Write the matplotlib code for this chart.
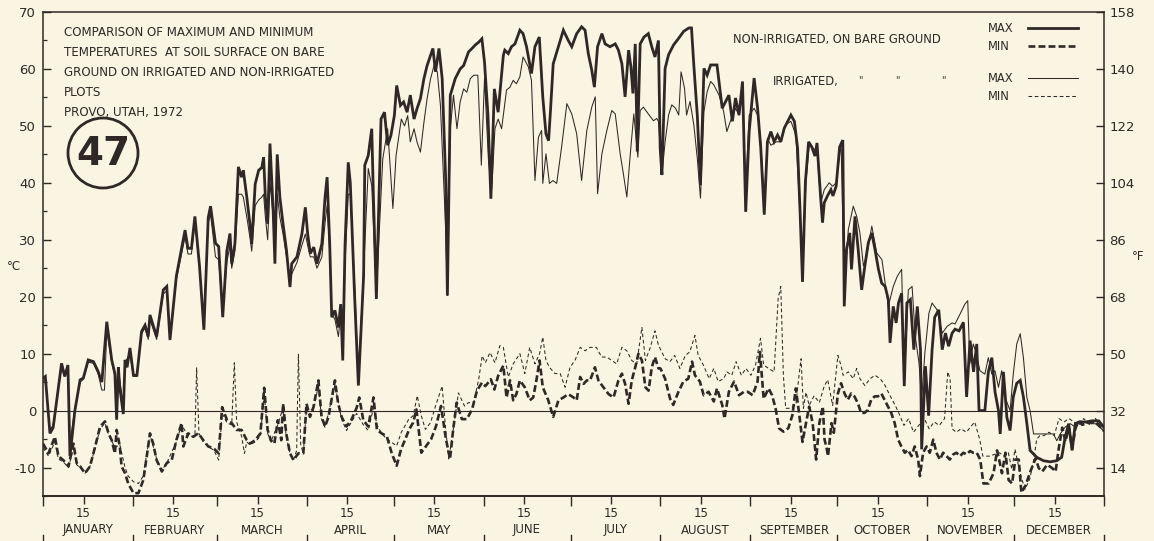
import matplotlib
matplotlib.use("Agg")
import matplotlib.pyplot as plt
from matplotlib.lines import Line2D
from matplotlib.patches import Ellipse
from matplotlib.transforms import blended_transform_factory
from matplotlib import font_manager

# ---------------------------------------------------------------------------
# Soil-surface temperatures, Provo, Utah, 1972 (day of year 0..366, deg C)
# ---------------------------------------------------------------------------
dry_max_day = [0, 0.8, 2.4, 3.5, 6.4, 7.5, 8.6, 9.3, 11, 12.8, 13.9, 15.6, 17.4, 19, 20.3, 22, 23.7, 24.8,
               25.4, 26, 26.5, 27.7, 28.3, 29, 30, 31.2, 32.4, 34, 35.2, 36.3, 36.9, 39.2, 41.5, 42.7, 43.8,
               46, 49, 50, 51.2, 52.4, 54, 55.5, 57, 57.8, 59.5, 60.6, 62, 63.4, 64.5, 65.1, 66.2, 67.4,
               68.5, 69.1, 70.3, 71.5, 72, 73.2, 74.4, 75.5, 76.1, 76.7, 77.5, 78.3, 79.4, 80, 80.8, 81.7,
               82.8, 84, 85.2, 85.8, 87.6, 89.3, 90.5, 91.3, 92.2, 93.4, 94.5, 96.2, 97.3, 98, 98.9, 99.6,
               100.7, 101.9, 102.7, 103.4, 104.2, 105.3, 106, 107.5, 108.8, 110.6, 111, 112.2, 113.4, 114,
               115, 116.6, 117.8, 118.9, 120, 121.2, 122, 123.3, 124.4, 125.6, 126.7, 128, 129, 130.2,
               131.4, 132.5, 133.7, 134.5, 135.4, 136.6, 137.7, 138.9, 139.5, 140.5, 142.2, 143.9, 145.1,
               146.8, 148, 149.1, 150.3, 151.4, 152.3, 153.5, 154.5, 155.7, 157, 158.8, 159.3, 160.5,
               161.6, 162.8, 164.5, 165.6, 166.8, 168.5, 169.7, 171.2, 172.4, 173.5, 174.4, 175, 176,
               177.8, 179.5, 181.2, 182.4, 184.1, 185.8, 187, 188.1, 189.3, 190.2, 191.3, 192.8, 193.9,
               195.6, 197.4, 198.5, 199.7, 200.8, 202, 202.8, 203.5, 204.3, 205, 206, 207.3, 208.8, 210,
               211.1, 212.3, 212.9, 213.5, 214.6, 215.8, 217.5, 219.3, 221, 222.8, 223.7, 224.5, 225.7,
               226.8, 228, 229.1, 230.3, 231.4, 232.5, 233.2, 234.3, 235.5, 236.6, 237.8, 238.9, 240.1,
               241.3, 242.4, 243.6, 245.3, 246.5, 247.6, 248.8, 249.9, 251.1, 252.2, 253.4, 254.5, 255.7,
               256.9, 258, 259.2, 260.3, 261.2, 262, 263, 264.1, 265.2, 266.3, 267, 268.3, 268.9, 269.5,
               270.6, 271.8, 272.5, 273.6, 274.8, 275.9, 276.4, 277.2, 278.3, 278.9, 280.1, 281.2, 282.4,
               283.5, 284.7, 285.9, 287, 288.2, 289.3, 290.5, 291.6, 292.2, 293.3, 294.3, 295.1, 296.2,
               297.1, 298, 299.2, 300.4, 301.6, 302.7, 303.1, 304.4, 305.5, 306.7, 307.6, 309, 310.2,
               311.3, 312.4, 313.6, 314.6, 316, 317.5, 318.6, 319.8, 321, 322.1, 322.9, 324.9, 326.1,
               327.3, 328.4, 329.6, 330.2, 331.3, 332.5, 333.6, 334.7, 335.9, 337.1, 338.2, 339.4, 340.5,
               342.8, 345.1, 347.4, 349.7, 351.4, 352.6, 353.8, 355, 356.1, 357.3, 359.6, 361.9, 364.2,
               365.9]
dry_max_c = [5.7, 6, -4, -3, 8.3, 6, 8, -8, 0, 5.4, 5.7, 8.9, 8.6, 6.9, 5, 15.6, 8.9, 6.5,
             -1.6, 7.6, 4, -0.6, 8.9, 7.6, 11, 6.2, 6.2, 13.9, 15, 13, 16.8, 13, 21.2, 21.8, 12.4,
             23.6, 31.7, 28.5, 28.5, 34.1, 25.3, 14.2, 33.9, 35.9, 29.4, 28.8, 16.4, 28, 31.1, 25.8, 29.3, 42.8,
             41, 42.2, 37.5, 32.2, 29.3, 39.8, 42.2, 42.7, 44.5, 37.5, 32.8, 46.9, 35.1, 25.8, 45, 37.5,
             32.8, 28.1, 21.7, 25.8, 27, 31, 35.7, 31, 27.6, 28.7, 25.8, 29.3, 37.5, 41, 29.3, 16.4,
             17.6, 14.6, 18.7, 8.8, 29.3, 43.6, 40, 20, 4.4, 23.7, 43.1, 44.8, 49.5, 37.2,
             19.6, 51.2, 52.4, 46.6, 48.3, 51.8, 57.1, 53.6, 54.2, 52.4, 55.4, 51.2, 53, 54.8,
             58.3, 60.6, 62.4, 63.6, 59.5, 63.6, 58.3, 40.7, 20.2, 55.4, 58.3, 60, 60.6,
             63, 63.6, 64.2, 64.7, 65.3, 61.2, 51.8, 37.2, 56.5, 52.4, 62.4, 63.3, 62.7,
             63.9, 64.4, 66.8, 66.2, 63.9, 59.2, 63.9, 65.6, 55.1, 48.6, 47.4, 52.2, 60.9,
             63.9, 66.8, 65, 63.9, 66.2, 67.4, 66.8, 62.7, 59.8, 56.8, 63.9, 66.2, 64.4,
             63.9, 64.4, 63.3, 60.9, 55.1, 63.3, 60.4, 55.7, 64.4, 45.5, 64.4, 65.6, 66.2, 63.9,
             62.1, 65, 46.1, 41.4, 60.1, 62.5, 64.2, 65.4, 66.6, 67.2, 67.2, 60.7, 51.9,
             39.6, 60.1, 58.9, 60.7, 60.7, 60.7, 57.8, 53.1, 54.3, 55.4, 50.8, 54.9, 51.9,
             57.8, 34.9, 49, 58.4, 53.1, 46.1, 34.4, 47.2, 49, 47.2, 48.4, 47.2, 49.6,
             50.8, 51.9, 50.8, 46.1, 34.4, 22.6, 40.2, 47.2, 46.3, 44.7, 47, 37.1, 33, 36.5,
             37.7, 38.8, 37.7, 39.4, 46.3, 47.5, 18.3, 28.3, 31.2, 24.8, 34.1, 28.3, 21.2,
             25.4, 29.5, 31.2, 28.3, 24.8, 22.4, 21.8, 19.5, 11.9, 18.3, 15.4, 18.9, 20.6,
             4.3, 18.9, 19.5, 10.7, 18.3, 10.7, -6.8, 7.8, -0.9, 10.7, 16.4, 17.7, 10.7,
             13.6, 11.3, 13.6, 14.3, 14, 15.5, 2.4, 12.3, 6.8, 11.7, 0, 0, 6.8,
             9.3, 3.3, 0, -4.1, 6.8, -1.2, -3.5, 2.4, 4.8, 5.3, 2.4, -2.3, -7,
             -8.2, -8.8, -9, -8.8, -8.2, -4.7, -2.3, -7, -2.3, -2, -2, -1.8, -1.8,
             -2.9]

dry_min_day = [0, 1.9, 4.1, 5.3, 7, 8.8, 10.5, 11.6, 12.8, 14.5, 16.2, 18, 19.7, 21.4, 22.6, 23.7, 24.8,
               25.4, 26.5, 27.1, 28.3, 29.4, 31.2, 32.9, 34.6, 35.8, 36.9, 38, 39.2, 41, 42.7, 44.4, 46,
               47.8, 48.4, 50.1, 51.8, 53.6, 55.3, 57, 58.8, 60.6, 61.8, 63.5, 65.1, 66.8, 68.5, 70.3,
               71.4, 73.2, 75, 76.3, 77.5, 78.6, 79.8, 81, 82.2, 82.8, 83.9, 85.2, 86.4, 88.1, 89.8, 90.9,
               92.1, 93.3, 95, 96.1, 97.3, 98.5, 100.7, 101.8, 103, 104.7, 106.4, 108.2, 109.1, 110.5,
               112.2, 114, 115.2, 116.8, 118.6, 120.3, 122, 123.5, 125, 126.3, 127.7, 128.8, 130.5, 132.2,
               133.9, 135.6, 137.3, 139, 140.4, 141.5, 142.7, 144.5, 146.2, 148, 149.7, 151.4, 152.6,
               154.5, 155.7, 157, 158.8, 159.9, 161.1, 162.2, 163.3, 164.5, 166.2, 167.9, 169.1, 170.2,
               171.3, 172.4, 174.3, 176, 177.8, 179.5, 181.2, 183, 184.1, 185.3, 186.5, 187.6, 188.7,
               190.4, 191.6, 193.3, 195.1, 196.8, 198.5, 199.7, 200.8, 202, 203.1, 204.3, 205.4, 206.6,
               207.8, 208.9, 210, 211.1, 212.3, 213, 214.6, 216.3, 217.4, 219.2, 220.9, 222.6, 223.9,
               224.9, 226.6, 227.9, 229.6, 231.4, 232.5, 234.3, 235.1, 236.6, 238.4, 240.1, 241.8, 243.1,
               244.8, 246.5, 247.3, 248.6, 250.3, 251.5, 252.7, 253.9, 255.4, 257.1, 258.5, 259.7, 260.9,
               262, 263.2, 264.3, 265.5, 266.7, 267.8, 269, 269.6, 270.2, 270.8, 272, 272.8, 274.2, 275.3,
               276.5, 277.6, 278.8, 279.9, 281.1, 282.2, 283.4, 284.5, 285.7, 286.9, 288, 289.2, 290.3,
               291.5, 292.6, 293.8, 295, 296.1, 297.3, 298.4, 299.6, 300.7, 301.9, 302.5, 303.6, 304.8,
               305.9, 307.1, 308.2, 309.4, 310.5, 311.7, 312.8, 314, 315.1, 316.3, 317.5, 318.6, 319.8,
               320.9, 322.1, 323.3, 324.4, 326.2, 327.9, 329.1, 329.9, 330.8, 332, 333.1, 334.3, 335.4,
               336.6, 337.5, 338.9, 340.6, 342.4, 343.5, 344.7, 346.4, 348.1, 349.3, 350.4, 351.6, 352.7,
               353.9, 355, 356.2, 357.3, 358.5, 360.8, 363.1, 366]
dry_min_c = [-5.8, -7.5, -4.6, -8, -8.7, -9.8, -5.8, -9.2, -9.8, -11, -9.8, -6.3, -2.8, -1.9, -4, -5.2, -7.5,
             -3.4, -6.3, -9.8, -11, -12.8, -14.5, -14.5, -12.2, -8, -4, -5.8, -8.7, -10.7, -9.2, -8.7, -5.2,
             -2.2, -6.3, -4, -4.6, -4, -5.2, -6.3, -6.6, -7.5, 0.6, -1.7, -2.2, -3.4, -3.4, -5.2,
             -5.8, -5.2, -4, 4, -3.4, -5.2, -5.8, -1.7, -5.2, 1.2, -4, -7.5, -8.7, -7.5, -7.5, 1.2,
             -1.1, 0.6, 5.3, -1.1, -2.8, -1.1, 5.3, 1.3, -1.1, -2.8, -1.6, 0.5, 2.3, -1.7,
             -2.8, 2.3, -3.4, -4, -4.5, -7.5, -9.7, -6.8, -5, -3.3, -2.1, 0.2, -7.4, -6.2,
             -5, -2.7, 0.8, -5, -8.5, -3.3, 1.4, -1.5, -1.5, 0.2, 3.5, 4.9, 4.3,
             5.5, 3.7, 6.1, 7.9, 2.3, 5.3, 1.8, 2.9, 5.3, 4.1, 1.8, 2.3, 5.3,
             8.8, 4.1, 1.8, -1.1, 1.8, 2.3, 2.9, 2.3, 1.8, 5.9, 4.7, 5.3, 5.3,
             7.6, 5.3, 4.1, 2.9, 2.3, 5.3, 6.5, 4.7, 1.2, 5.3, 7.6, 10, 8.8,
             4.1, 3.5, 7.6, 9.4, 7.4, 7.4, 5.6, 2.1, 1, 3.3, 5.1, 5.6, 8.6,
             6.2, 5.1, 2.7, 3.3, 1.6, 3.9, 1, -1.4, 3.3, 5.1, 2.7, 3.3, 3.3,
             2.7, 5.1, 10.3, 2.1, 3.9, 2.7, 0.4, -3.1, -3.7, -3.1, -0.8, 3.9, -0.8,
             -5.5, -2.2, 0.7, -2.2, -8.6, -2.2, 0.7, -5.1, -6.3, -8, -2.2, -3.9, 3, 4.8,
             3, 1.9, 3, 2.5, 1.3, -0.4, -0.4, 0.1, 1.9, 2.5, 2.5, 3, 1.9,
             0.7, -0.4, -2.2, -5.1, -6.3, -7.4, -6.9, -8, -6.3, -8.6, -11.5, -7.4, -6.3,
             -7.4, -5.1, -7.4, -8.6, -7.4, -8, -8.6, -7.7, -7.4, -8, -7.4, -7.7, -7.1,
             -7.4, -7.4, -8.6, -12.8, -12.8, -11, -7, -8.8, -11, -7.4, -12.2, -12.8, -8.6,
             -8.6, -14.4, -13.2, -10.7, -8.4, -10.1, -10.7, -9.5, -10.1, -10.7, -6.6, -3, -5.4,
             -3, -6.6, -3, -1.9, -2.5, -2.1, -1.9, -3.6]

wet_max_day = [0, 0.8, 2.4, 3.5, 6.4, 7.5, 8.6, 9.3, 11, 12.8, 13.9, 15.6, 17.4, 19, 20.3, 21.2, 22, 23.7,
               24.8, 25.4, 26, 27.7, 28.3, 30, 31.2, 32.4, 34, 35.2, 36.3, 36.9, 39.2, 41.5, 42.7, 43.8, 46,
               49, 50, 51.2, 52.4, 54, 55.5, 57, 57.8, 59.5, 60.6, 62, 63.4, 64.5, 65.1, 66.2, 67.4, 68.5,
               69.1, 70.3, 71.5, 72, 73.2, 74.4, 75.5, 76.1, 76.7, 77.5, 78.3, 79.4, 80, 80.8, 81.7, 82.8,
               84, 85.2, 85.8, 87.6, 89.3, 90.5, 91.3, 92.2, 93.4, 94.5, 96.2, 97.3, 98, 98.9, 99.6, 100.7,
               101.9, 102.7, 103.4, 104.2, 105.3, 106, 107.5, 108.8, 111, 112.2, 113.4, 115, 117.2, 118.9,
               120.7, 121.8, 123.6, 124.7, 125.8, 126.7, 128, 129, 130.2, 131.4, 132.5, 133.7, 134.9, 136,
               137.1, 138.9, 139.5, 140.5, 141.6, 142.8, 143.9, 145.1, 146.2, 147.4, 148.6, 150, 151.2,
               152.3, 153.7, 154.8, 155.9, 157, 158.2, 159.3, 159.9, 161.1, 162.2, 163.3, 164.5, 165.6,
               167.4, 168.5, 169.7, 170.9, 172, 172.4, 173.5, 174.7, 175.9, 177.2, 178.9, 180.7, 182.4,
               184.1, 185.8, 187.6, 189.3, 190.5, 191.3, 192.8, 194.5, 196.2, 197.4, 199.1, 200.2, 201.4,
               202.6, 203.8, 205.2, 206, 207.1, 208.8, 210.6, 211.7, 212.3, 213.5, 214.6, 215.8, 216.9,
               218.2, 219.3, 220.1, 221.3, 222, 223.2, 224.5, 225.7, 226.8, 228, 229.1, 230.3, 231.4,
               233.2, 234.8, 235.9, 237.1, 238.9, 240.1, 241.3, 242.4, 243.6, 245.3, 246.5, 247.6, 248.8,
               249.9, 251.1, 252.9, 254.5, 256.2, 258, 259.7, 260.9, 262, 263.2, 264.3, 265.8, 267, 268.3,
               269.5, 271.2, 272.4, 273.6, 275.3, 276.4, 277.8, 279.5, 280.7, 281.8, 283, 284.1, 285.9,
               287.6, 289.4, 290.5, 291.6, 293.3, 294.7, 296.2, 297.1, 298.5, 299.8, 300.9, 302.2, 303.1,
               304.2, 305.6, 306.7, 308.4, 310.2, 311.9, 313.6, 314.6, 316.3, 318, 319, 319.7, 320.9, 322,
               323.2, 324.9, 326.1, 327.3, 328.4, 329.6, 330.7, 331.9, 333.6, 334.7, 335.9, 337.1, 338.2,
               339.4, 340.5, 341.7, 345.2, 348.6, 349.7, 350.9, 352.6, 354.4, 356.1, 357.8, 360.7, 363,
               365.9]
wet_max_c = [5, 5.5, -3.5, -2.5, 7.5, 6, 7.5, -6, 0.5, 5, 5.5, 8.5, 8.3, 6.5, 3.6, 3.6, 14, 8.5,
             6, 0, 7, 1, 8.5, 10, 6, 6, 13.5, 14.5, 12.5, 16, 12.5, 20.5, 21, 13, 23,
             30.5, 27.5, 27.5, 33, 25, 15, 33, 34.5, 27, 26.5, 17, 26, 29, 25, 28, 38, 38,
             37.5, 34, 30, 28, 36, 37, 37.5, 38, 34, 30, 40, 34, 27, 38, 34, 31,
             27, 23, 24, 26, 29, 31, 29, 27, 27, 25, 27, 33, 36, 28, 17, 16,
             13, 17, 10, 26, 38, 38, 22, 5.6, 29, 42.5, 39.5, 20.8, 44.2, 49.5,
             35.5, 44.8, 51.2, 50, 51.8, 47.2, 49.5, 47.2, 45.4, 50.6, 54.8, 58.3, 60.6, 59.5,
             53.6, 31.9, 20.2, 49.5, 55.4, 49.5, 54.2, 56.5, 55.9, 58.3, 58.9, 58.9, 43.1,
             58.3, 43.6, 38.9, 49.5, 51.2, 49.5, 53.9, 56.3, 56.8, 58, 57.4, 58.6, 62.1,
             60.4, 58, 40.4, 48, 49.2, 39.9, 45.1, 39.9, 40.4, 39.9, 46.3, 53.9, 52.1,
             48.6, 40.4, 49.2, 53.3, 55.1, 38.1, 45.1, 49.2, 52.7, 52.1, 45.1, 41.6, 37.5,
             45.1, 52.1, 44.5, 52.7, 53.3, 52.1, 50.9, 51.3, 50.8, 41.4, 47.2, 51.9, 53.7,
             53.1, 51.9, 59.5, 56.6, 51.9, 54.3, 50.2, 44.3, 37.3, 52.5, 56, 57.8, 57.2,
             55.4, 52.5, 49, 50.8, 53.1, 51.9, 55.4, 39, 51.9, 53.1, 51.9, 47.2, 36.7,
             47.8, 46.6, 47.2, 47.2, 50.2, 50.8, 48.4, 36.7, 23.8, 40.2, 46.6, 46, 45.7, 36.5,
             38.8, 40, 39.4, 40, 47, 21.2, 31.8, 35.9, 34.1, 31.2, 25.4, 27.1, 32.4,
             27.7, 26.5, 22.4, 18.3, 21.8, 23.6, 24.8, 4.9, 21.2, 21.8, 13, 8.3, 1.9,
             10.1, 17.1, 18.9, 17.7, 13.6, 14.8, 15.4, 15.2, 16.9, 18.7, 19.3, 8.2, 11.7, 10,
             7, 6.4, 9.3, 6.4, 7, 4.1, 7, 2.3, 0, 6.4, 11.7, 13.5, 9.3,
             2.3, 0, -4.1, -4.1, -4.1, -5.3, -4.1, -2.9, -2.3, -2.9, -1.8, -2.3, -2.3,
             -3.5]

wet_min_day = [0, 1.9, 4.1, 5.3, 7, 8.8, 10.5, 11.6, 12.8, 14.5, 16.2, 18, 19.7, 21.4, 22.6, 24.8, 26.5,
               28.3, 29.4, 31.2, 32.9, 34.6, 35.8, 36.9, 39.2, 41, 42.7, 46, 47.8, 50.1, 52.4, 53, 53.8,
               55.3, 57, 59, 60.6, 61.8, 63.5, 65.1, 66, 66.8, 68.5, 69.5, 70.3, 71.4, 73.2, 75, 76.3,
               77.5, 78.6, 81, 82.8, 83.9, 85.2, 86.4, 87.5, 88.1, 88.9, 89.8, 90.9, 93.3, 95, 96.1,
               97.3, 100.7, 103, 104.7, 106.4, 108.2, 110.5, 112.2, 114, 115.2, 116.8, 118.6, 120.3, 122,
               123.6, 126.2, 127.7, 129.1, 130.5, 131.9, 133.7, 135.4, 137.7, 138.9, 140, 141.7, 143.3,
               145.4, 146.8, 148.6, 150.3, 151.5, 152.6, 154.2, 155.9, 157.6, 158.8, 160.5, 162.2, 164.5,
               166.2, 167.9, 169.7, 171.3, 172.4, 173.5, 174.7, 176.6, 178.4, 180.1, 181.8, 183.5, 185.3,
               187, 188.7, 190.9, 192.7, 194.5, 196.2, 197.9, 199.7, 201.4, 203.1, 204.8, 206.6, 207.8,
               209.5, 211.1, 212.3, 214.6, 216.3, 217.9, 219.7, 221.6, 223.1, 224.9, 226, 227.8, 229.8,
               231.4, 232.9, 234.8, 235.9, 237.6, 239.1, 240.9, 242.5, 244.2, 245.8, 247.5, 248.6, 250.3,
               252.2, 253.6, 254.5, 255.4, 256.2, 257.8, 259.7, 260.8, 261.5, 262.3, 263.2, 264.3, 266,
               267.8, 269.5, 270.7, 272.4, 274.2, 275.3, 276, 277.8, 279.5, 280.7, 281.8, 283.5, 285.3,
               287, 288.8, 290.5, 292.2, 294, 295.1, 297, 298.6, 300.3, 302.1, 304, 305.7, 307.4, 309.2,
               311, 312.1, 312.9, 313.6, 315, 316.7, 318.5, 321.4, 323.1, 324.2, 326.5, 329.8, 331.9, 333,
               334.2, 335.3, 336.5, 337.6, 338.8, 340.4, 341.6, 342.8, 343.9, 345.3, 347, 348.8, 350.5,
               352.2, 353.9, 355.6, 357.3, 359, 361.3, 363.1, 366]
wet_min_c = [-6.5, -8, -5.5, -8.5, -9, -10, -6.5, -9.5, -10, -11, -9.8, -6.5, -3.2, -2.2, -4.2, -6.5, -6,
             -10, -11.5, -12.5, -12.8, -11.5, -7.5, -4.2, -8.5, -10.5, -9.2, -5.5, -2.5, -4.5, -4.5, 7.5, -4,
             -5.5, -6.3, -7, -8.7, -0.5, -2.2, -2.5, 8.4, -2, -4.5, -7.5, -5.5, -6, -5.5, -4.5, 3,
             -4, -5.5, -2.5, 0.5, -4.5, -7.5, -8.7, -7, 9.9, -6, -7.5, 0.5, 0, 4.5, -1.5,
             -3, 4.5, -1.5, -3.5, -2, -0.5, -2.5, -3.5, 0.5, -2.5, -4, -5, -5.6, -6.2,
             -3.8, -1.5, -0.9, 2.6, -0.9, -3.3, -2.1, 0.8, 4.3, -3.3, -8.5, -2.7, 3.1,
             0.8, 1.4, 1.4, 5.5, 9.6, 8.4, 10.2, 8.4, 11.4, 11.1, 5.9, 8.2, 10,
             6.5, 11.1, 8.2, 10, 12.9, 8.8, 7.6, 6.5, 6.5, 4.1, 7.6, 8.8, 11.1,
             10.5, 11.1, 11.1, 9.4, 9.4, 8.8, 8.2, 11.1, 10.5, 8.8, 8.2, 14.6, 8.8,
             11.1, 14, 11.5, 9.1, 8.6, 9.7, 7.4, 9.7, 10.3, 13.2, 9.7, 8, 5.6,
             7.4, 5.1, 5.6, 6.8, 6.2, 8.6, 6.2, 7.4, 6.2, 8, 12.7, 8, 7.4,
             6.8, 19.7, 21.8, 6.2, 0.4, 0.4, 1, 6.2, 9.1, 0.4, 3.2, 0.9, 2.6,
             1.4, 4.3, 5.4, 0.9, 9.7, 7.9, 6.2, 6.8, 5.6, 7.4, 5.6, 4.4, 5.6,
             6.2, 5.6, 4.4, 2.6, 0.9, -0.3, -2.6, -1.4, -3.8, -2.6, -1.4, -3.2, -2, -2.6,
             -1.4, 6.8, 5.6, -3.2, -3.8, -3.2, -3.8, -2, -5, -8, -8, -7.4, -8, -7.4,
             -10.3, -6.8, -9.7, -12, -13.8, -12, -9.1, -5, -4.4, -4.4, -3.8, -4.4, -1.4,
             -2, -1.4, -2, -2.6, -1.4, -2.6, -1.4, -3.8]

month_names = ["JANUARY", "FEBRUARY", "MARCH", "APRIL", "MAY", "JUNE", "JULY",
               "AUGUST", "SEPTEMBER", "OCTOBER", "NOVEMBER", "DECEMBER"]
month_starts = [0, 31, 60, 91, 121, 152, 182, 213, 244, 274, 305, 335, 366]
celsius_ticks = [-10, 0, 10, 20, 30, 40, 50, 60, 70]
fahrenheit_labels = ["14", "32", "50", "68", "86", "104", "122", "140", "158"]

title_lines = ["COMPARISON OF MAXIMUM AND MINIMUM",
               "TEMPERATURES  AT SOIL SURFACE ON BARE",
               "GROUND ON IRRIGATED AND NON-IRRIGATED",
               "PLOTS",
               "PROVO, UTAH, 1972"]

# ---------------------------------------------------------------------------
W, H = 1154, 541
BG = "#f9f5e2"
INK = "#2e2926"
FONT = "DejaVu Sans"

plt.rcParams["font.family"] = FONT

# a narrow face for the plate number, if one is installed
installed = {f.name for f in font_manager.fontManager.ttflist}
narrow = [n for n in ("Liberation Sans Narrow", "DejaVu Sans Condensed") if n in installed]
number_family = narrow[0] if narrow else FONT


def fx(px):
    return px / W


def fy(py):
    return 1 - py / H


fig = plt.figure(figsize=(W / 100, H / 100), dpi=100)
fig.patch.set_facecolor(BG)

ax_left, ax_right, ax_top, ax_bottom = 43, 1104, 12, 496
ax = fig.add_axes([fx(ax_left), fy(ax_bottom), (ax_right - ax_left) / W, (ax_bottom - ax_top) / H])
ax.set_facecolor(BG)
ax.set_xlim(0, 366)
ax.set_ylim(-15, 70)

for s in ax.spines.values():
    s.set_color(INK)
    s.set_linewidth(1.1)
ax.spines["bottom"].set_linewidth(1.4)

# zero-degree reference line
ax.axhline(0, color=INK, lw=0.8, zorder=1)

# temperature traces
ax.plot(wet_max_day, wet_max_c, color=INK, lw=0.75, zorder=3)
ax.plot(wet_min_day, wet_min_c, color=INK, lw=0.75, dashes=(3.5, 2.5), zorder=3)
ax.plot(dry_min_day, dry_min_c, color=INK, lw=1.9, dashes=(2.6, 1.2), zorder=4)
ax.plot(dry_max_day, dry_max_c, color=INK, lw=2.0, zorder=5, solid_joinstyle="miter")

# Celsius axis (left)
ax.set_yticks(celsius_ticks)
ax.set_yticklabels([str(v) for v in celsius_ticks], fontsize=9.5, color=INK)
ax.set_yticks(list(range(-15, 70, 10)), minor=True)
ax.tick_params(axis="y", which="major", direction="in", length=6, width=1.0, pad=5, colors=INK)
ax.tick_params(axis="y", which="minor", direction="in", length=3, width=0.9, colors=INK)

# Fahrenheit axis (right)
axr = ax.twinx()
axr.set_ylim(-15, 70)
axr.set_yticks(celsius_ticks)
axr.set_yticklabels(fahrenheit_labels, fontsize=9.5, color=INK)
axr.tick_params(axis="y", direction="in", length=6, width=1.0, pad=4, colors=INK)
for s in axr.spines.values():
    s.set_visible(False)

# time axis: ticks at month starts and mid-month
fifteenths = [m + 14 for m in month_starts[:-1]]
ax.set_xticks(fifteenths)
ax.set_xticklabels(["15"] * len(fifteenths), fontsize=8.5, color=INK)
ax.set_xticks(month_starts, minor=True)
ax.tick_params(axis="x", which="major", direction="out", length=6, width=1.0, pad=2, colors=INK)
ax.tick_params(axis="x", which="minor", direction="out", length=7, width=1.0, colors=INK)

xfig = blended_transform_factory(ax.transData, fig.transFigure)
for i, name in enumerate(month_names):
    mid = (month_starts[i] + month_starts[i + 1]) / 2
    ax.text(mid, fy(530), name, transform=xfig, ha="center", va="center",
            fontsize=8.5, color=INK)
for m in month_starts:
    ax.add_line(Line2D([m, m], [fy(535), fy(541)], transform=xfig, color=INK,
                       lw=1.0, clip_on=False))

# axis unit labels
fig.text(fx(14), fy(266), "°C", fontsize=8.5, color=INK, ha="center", va="center")
fig.text(fx(1138), fy(256), "°F", fontsize=8.5, color=INK, ha="center", va="center")

# title block
for i, line in enumerate(title_lines):
    fig.text(fx(64), fy(33 + i * 19.8), line, fontsize=8.6, color=INK, ha="left", va="center")

# plate number in a circle
fig.add_artist(Ellipse((1.03, (H - 153) / 100), 0.70, 0.70, transform=fig.dpi_scale_trans,
                       fill=False, edgecolor=INK, lw=2.0))
fig.text(fx(103), fy(154), "47", fontsize=28, fontweight="bold", color=INK,
         family=number_family, ha="center", va="center")

# legend
fig.text(fx(733), fy(40), "NON-IRRIGATED, ON BARE GROUND", fontsize=8.3, color=INK,
         ha="left", va="center")
fig.text(fx(773), fy(82), "IRRIGATED,", fontsize=8.3, color=INK, ha="left", va="center")
for qx in (860, 897, 943):
    fig.text(fx(qx), fy(80), '"', fontsize=7, color=INK, ha="center", va="center")
legend_rows = [(28, "MAX", dict(lw=2.0)),
               (46, "MIN", dict(lw=1.9, dashes=(2.6, 1.2))),
               (78, "MAX", dict(lw=0.75)),
               (96, "MIN", dict(lw=0.75, dashes=(3.5, 2.5)))]
for py, lab, style in legend_rows:
    fig.text(fx(988), fy(py), lab, fontsize=8.3, color=INK, ha="left", va="center")
    fig.add_artist(Line2D([fx(1028), fx(1078)], [fy(py), fy(py)], color=INK, **style))

fig.savefig("out.png", dpi=100, facecolor=BG)
